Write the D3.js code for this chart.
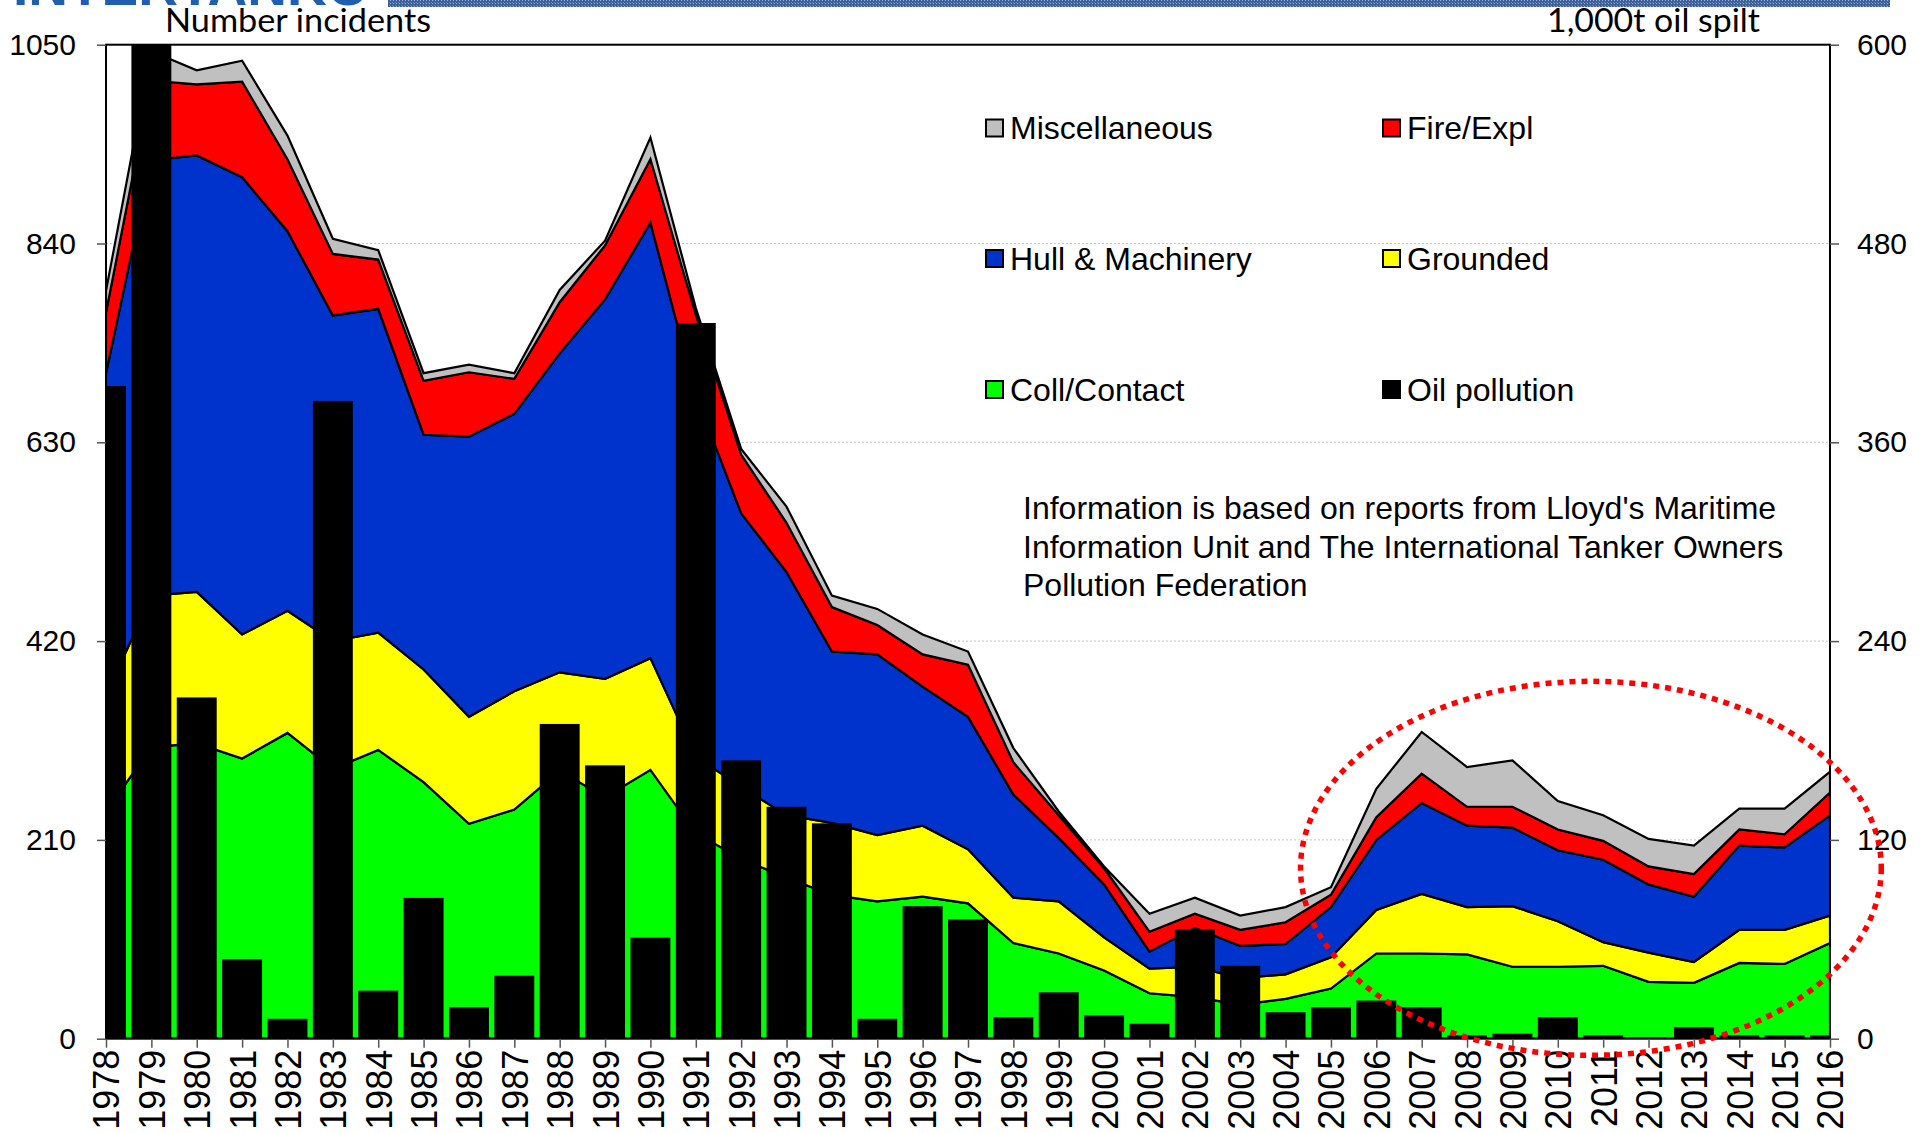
<!DOCTYPE html>
<html>
<head>
<meta charset="utf-8">
<script src="https://cdn.jsdelivr.net/npm/d3@7"></script>
<style>
  body { margin: 0; background: #fff; }
  svg { display: block; }
  text { font-family: "Liberation Sans", Arial, sans-serif; fill: #000; }
</style>
</head>
<body>
<div id="chart"></div>
<script>
// categories
var years = ["1978","1979","1980","1981","1982","1983","1984","1985","1986","1987",
  "1988","1989","1990","1991","1992","1993","1994","1995","1996","1997",
  "1998","1999","2000","2001","2002","2003","2004","2005","2006","2007",
  "2008","2009","2010","2011","2012","2013","2014","2015","2016"];

// number of incidents per cause (stacked, left axis)
var collContact = [240,308,312,296,323,285,305,271,227,242,283,255,284,217,190,170,152,145,150,143,101,90,72,48,44,36,42,53,90,90,89,76,76,77,60,59,80,79,101];
var grounded = [122,160,160,131,129,135,124,119,113,125,104,125,118,81,76,66,76,70,75,57,48,55,35,26,32,28,26,33,46,63,50,64,48,25,31,22,35,36,29];
var hullMachinery = [341,460,461,483,401,344,342,248,296,293,337,401,460,382,289,257,181,191,147,140,109,67,56,18,41,34,32,53,74,96,86,83,75,87,72,69,89,87,106];
var fireExpl = [64,84,75,101,76,65,52,57,68,37,54,57,67,85,62,52,47,31,34,55,34,24,17,21,15,17,23,13,24,31,20,22,22,20,19,24,17,14,24];
var miscellaneous = [23,31,15,22,25,16,10,8,8,6,13,5,23,7,6,17,12,17,21,14,15,4,2,19,17,15,16,8,30,44,42,49,30,27,29,30,22,27,22];

// 1,000t oil spilt (bars, right axis)
var oilSpilt = [394,636,206,48,12,385,29,85,19,38,190,165,61,432,168,140,130,12,80,72,13,28,14,9,66,44,16,19,23,19,2,3,13,2,1,7,2,2,2];

// tick labels
var leftTicks = [0, 210, 420, 630, 840, 1050];
var rightTicks = [0, 120, 240, 360, 480, 600];

var seriesKeys = ["Coll/Contact", "Grounded", "Hull & Machinery", "Fire/Expl", "Miscellaneous"];
var seriesFills = ["#00ff00", "#ffff00", "#0033cc", "#ff0000", "#c0c0c0"];

var width = 1930, height = 1133;
var plotLeft = 106, plotRight = 1830, plotTop = 44.7, plotBottom = 1038.7;
var fontSize = 30;
var yearFontSize = 36;

var svg = d3.select("#chart").append("svg")
  .attr("width", width)
  .attr("height", height);

var x = d3.scalePoint()
  .domain(years)
  .range([plotLeft, plotRight]);

var yLeft = d3.scaleLinear()
  .domain([0, 1050])
  .range([plotBottom, plotTop]);

var yRight = d3.scaleLinear()
  .domain([0, 600])
  .range([plotBottom, plotTop]);

var rows = years.map(function(year, i) {
  return {
    year: year,
    "Coll/Contact": collContact[i],
    "Grounded": grounded[i],
    "Hull & Machinery": hullMachinery[i],
    "Fire/Expl": fireExpl[i],
    "Miscellaneous": miscellaneous[i],
    oil: oilSpilt[i]
  };
});

// logo remnant + banner at the very top
var defs = svg.append("defs");
var pat = defs.append("pattern")
  .attr("id", "bannerPat")
  .attr("width", 3)
  .attr("height", 3)
  .attr("patternUnits", "userSpaceOnUse");
pat.append("rect").attr("width", 3).attr("height", 3).attr("fill", "#3a5f98");
pat.append("rect").attr("width", 1).attr("height", 1).attr("fill", "#9fb4d6");
pat.append("rect").attr("x", 2).attr("y", 2).attr("width", 1).attr("height", 1).attr("fill", "#6f8cbc");

svg.append("rect")
  .attr("x", 388)
  .attr("y", 0)
  .attr("width", 1502)
  .attr("height", 7)
  .attr("fill", "url(#bannerPat)");

defs.append("clipPath")
  .attr("id", "logoClip")
.append("rect")
  .attr("x", 0)
  .attr("y", 0)
  .attr("width", 388)
  .attr("height", 6);

svg.append("text")
  .attr("x", 13)
  .attr("y", 4.5)
  .attr("clip-path", "url(#logoClip)")
  .style("font-size", "55px")
  .style("font-weight", "bold")
  .style("fill", "#1f5fb0")
  .text("INTERTANKO");

defs.append("clipPath")
  .attr("id", "plotClip")
.append("rect")
  .attr("x", plotLeft)
  .attr("y", plotTop)
  .attr("width", plotRight - plotLeft)
  .attr("height", plotBottom - plotTop);

// gridlines
svg.append("g")
  .selectAll("line")
  .data(leftTicks.filter(function(t) { return t > 0 && t < 1050; }))
  .enter()
  .append("line")
  .attr("x1", plotLeft)
  .attr("x2", plotRight)
  .attr("y1", function(d) { return yLeft(d); })
  .attr("y2", function(d) { return yLeft(d); })
  .attr("stroke", "#c4c4c4")
  .attr("stroke-width", 1)
  .attr("stroke-dasharray", "2,2");

// stacked areas
var stack = d3.stack().keys(seriesKeys);
var layers = stack(rows);

var area = d3.area()
  .x(function(d) { return x(d.data.year); })
  .y0(function(d) { return yLeft(d[0]); })
  .y1(function(d) { return yLeft(d[1]); });

svg.append("g")
  .attr("clip-path", "url(#plotClip)")
  .selectAll("path")
  .data(layers)
  .enter()
  .append("path")
  .attr("d", area)
  .attr("fill", function(d, i) { return seriesFills[i]; })
  .attr("stroke", "#000")
  .attr("stroke-width", 2.2)
  .attr("stroke-linejoin", "miter");

// oil spilt bars
var barWidth = x.step() * 0.88;
svg.append("g")
  .attr("clip-path", "url(#plotClip)")
  .selectAll("rect")
  .data(rows)
  .enter()
  .append("rect")
  .attr("x", function(d) { return x(d.year) - barWidth / 2; })
  .attr("y", function(d) { return yRight(d.oil); })
  .attr("width", barWidth)
  .attr("height", function(d) { return plotBottom - yRight(d.oil); })
  .attr("fill", "#000");

// plot frame
svg.append("rect")
  .attr("x", plotLeft)
  .attr("y", plotTop)
  .attr("width", plotRight - plotLeft)
  .attr("height", plotBottom - plotTop)
  .attr("fill", "none")
  .attr("stroke", "#000")
  .attr("stroke-width", 2);

// axes
var leftAxis = svg.append("g")
  .attr("transform", "translate(" + plotLeft + ",0)")
  .call(d3.axisLeft(yLeft).tickValues(leftTicks).tickSize(9).tickPadding(21).tickFormat(d3.format("d")));

var rightAxis = svg.append("g")
  .attr("transform", "translate(" + plotRight + ",0)")
  .call(d3.axisRight(yRight).tickValues(rightTicks).tickSize(9).tickPadding(18).tickFormat(d3.format("d")));

var bottomAxis = svg.append("g")
  .attr("transform", "translate(0," + plotBottom + ")")
  .call(d3.axisBottom(x).tickSize(9).tickPadding(0));

[leftAxis, rightAxis, bottomAxis].forEach(function(ax) {
  ax.select(".domain").remove();
  ax.selectAll(".tick line").attr("stroke", "#555").attr("stroke-width", 1.5);
  ax.selectAll("text")
    .style("font-family", "'Liberation Sans', Arial, sans-serif")
    .style("font-size", fontSize + "px")
    .attr("fill", "#000");
});

bottomAxis.selectAll("text")
  .style("font-size", yearFontSize + "px")
  .attr("transform", "rotate(-90)")
  .attr("text-anchor", "end")
  .attr("x", -11)
  .attr("y", 0)
  .attr("dy", "0.36em");

// axis titles
svg.append("text")
  .attr("x", 165)
  .attr("y", 32)
  .attr("textLength", 266)
  .attr("lengthAdjust", "spacingAndGlyphs")
  .style("font-family", "Lato, 'Open Sans', sans-serif")
  .style("font-size", "33px")
  .text("Number incidents");

svg.append("text")
  .attr("x", 1760)
  .attr("y", 32)
  .attr("text-anchor", "end")
  .attr("textLength", 213)
  .attr("lengthAdjust", "spacingAndGlyphs")
  .style("font-family", "Lato, 'Open Sans', sans-serif")
  .style("font-size", "33px")
  .text("1,000t oil spilt");

// legend
var legendItems = [
  { name: "Miscellaneous", fill: "#c0c0c0", col: 0, row: 0 },
  { name: "Fire/Expl", fill: "#ff0000", col: 1, row: 0 },
  { name: "Hull & Machinery", fill: "#0033cc", col: 0, row: 1 },
  { name: "Grounded", fill: "#ffff00", col: 1, row: 1 },
  { name: "Coll/Contact", fill: "#00ff00", col: 0, row: 2 },
  { name: "Oil pollution", fill: "#000", col: 1, row: 2 }
];
var legendX = [986, 1383];
var legendY = [128, 258.5, 389.5];

var legend = svg.append("g")
  .selectAll("g")
  .data(legendItems)
  .enter()
  .append("g")
  .attr("transform", function(d) { return "translate(" + legendX[d.col] + "," + legendY[d.row] + ")"; });

legend.append("rect")
  .attr("x", 0)
  .attr("y", -8.5)
  .attr("width", 17)
  .attr("height", 17)
  .attr("fill", function(d) { return d.fill; })
  .attr("stroke", "#000")
  .attr("stroke-width", 2);

legend.append("text")
  .attr("x", 24)
  .attr("y", 11)
  .style("font-size", "32px")
  .text(function(d) { return d.name; });

// note
var noteLines = [
  "Information is based on reports from Lloyd's Maritime",
  "Information Unit and The International Tanker Owners",
  "Pollution Federation"
];
svg.append("g")
  .selectAll("text")
  .data(noteLines)
  .enter()
  .append("text")
  .attr("x", 1023)
  .attr("y", function(d, i) { return 519 + i * 38.5; })
  .style("font-size", "32px")
  .text(function(d) { return d; });

// red dotted highlight around recent years
svg.append("ellipse")
  .attr("cx", x("2010") + x.step() * 0.73)
  .attr("cy", yLeft(180))
  .attr("rx", x.step() * 6.4)
  .attr("ry", 187)
  .attr("fill", "none")
  .attr("stroke", "#ff0000")
  .attr("stroke-width", 5.5)
  .attr("stroke-dasharray", "6,6");
</script>
</body>
</html>
